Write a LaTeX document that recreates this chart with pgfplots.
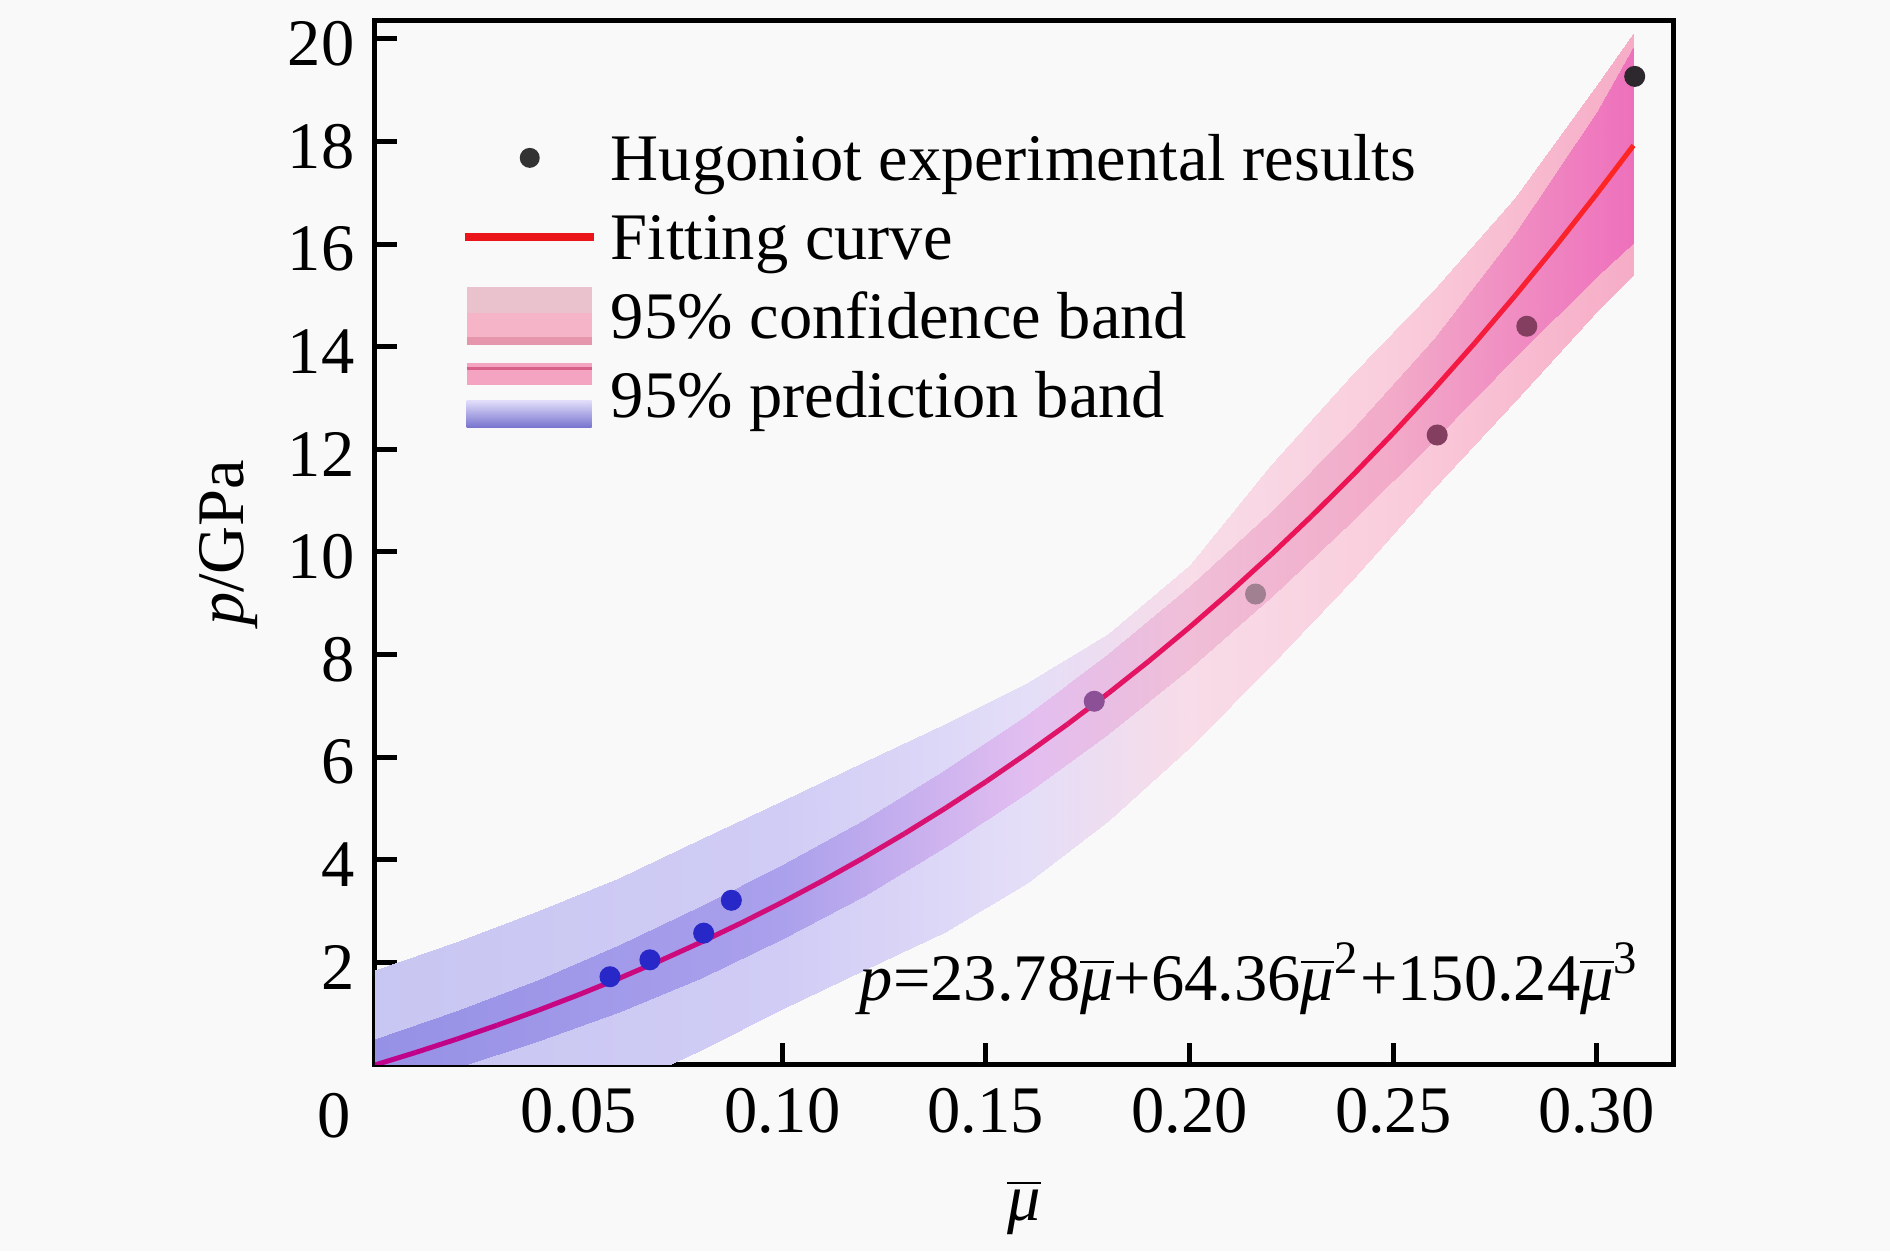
\documentclass[border=0pt]{standalone}
\usepackage{pgfplots}
\pgfplotsset{compat=1.18}
\usepackage{fontspec}
\setmainfont{Liberation Serif}
\usetikzlibrary{backgrounds}
\definecolor{bgc}{RGB}{249,249,249}
\definecolor{ptdark}{RGB}{51,51,51}
\definecolor{fitred}{RGB}{235,20,25}
\definecolor{cA}{RGB}{40,40,200}
\definecolor{cB}{RGB}{140,80,150}
\definecolor{cC}{RGB}{160,128,145}
\definecolor{cD}{RGB}{132,62,96}
\definecolor{cE}{RGB}{45,40,45}
\definecolor{legconfA}{RGB}{234,194,206}
\definecolor{legconfB}{RGB}{246,180,200}
\definecolor{legconfC}{RGB}{230,150,172}
\definecolor{legpredA}{RGB}{244,164,192}
\definecolor{legpredB}{RGB}{214,96,136}
\definecolor{legblueT}{RGB}{224,220,250}
\definecolor{legblueB}{RGB}{120,116,206}
\newcommand\mub{\ensuremath{\overline{\mbox{\itshape μ}}}}
\pgfplotsset{
  colormap={predcm}{rgb255(0pt)=(200,198,242) rgb255(100pt)=(208,204,245) rgb255(160pt)=(228,222,248) rgb255(200pt)=(248,220,232) rgb255(250pt)=(250,205,220) rgb255(309pt)=(246,172,198)},
  colormap={confcm}{rgb255(0pt)=(150,145,230) rgb255(100pt)=(170,160,236) rgb255(160pt)=(226,190,240) rgb255(200pt)=(240,190,215) rgb255(250pt)=(242,170,200) rgb255(309pt)=(238,112,188)},
  colormap={curvecm}{rgb255(0pt)=(190,0,140) rgb255(150pt)=(220,20,110) rgb255(250pt)=(240,20,80) rgb255(309pt)=(255,40,30)},
}
\begin{document}
\begin{tikzpicture}[font=\fontsize{13.3}{16}\selectfont,
  show background rectangle, inner frame sep=0pt,
  background rectangle/.style={fill=bgc, draw=none}]
\begin{axis}[
  scale only axis, width=259.6pt, height=208.9pt,
  xmin=0, xmax=0.3187, ymin=0, ymax=20.36,
  axis line style={line width=1pt},
  tick align=inside, major tick length=4.4pt,
  tick style={black, line width=1pt},
  xtick pos=bottom, ytick pos=left,
  xtick={0.05,0.10,0.15,0.20,0.25,0.30},
  xticklabels={0.05,0.10,0.15,0.20,0.25,0.30},
  ytick={2,4,6,8,10,12,14,16,18,20},
  yticklabels={2,4,6,8,10,12,14,16,18,20},
  xticklabel style={yshift=-1.2pt},
  yticklabel style={xshift=-0.6pt, yshift=-1pt},
  clip mode=individual,
  xlabel={\mub}, ylabel={\textit{p}/GPa},
  every axis x label/.style={at={(rel axis cs:0.5,-0.136)}, anchor=center},
  every axis y label/.style={at={(rel axis cs:-0.1125,0.5)}, anchor=center, rotate=90},
  legend style={draw=none, fill=none, inner sep=0pt, at={(0.0651,0.9015)}, anchor=north west,
    row sep=2.4pt, nodes={inner sep=0pt, text height=11.2pt, text depth=2.2pt},
    /tikz/every odd column/.append style={column sep=2.6pt}},
  legend cell align=left,
]
% prediction band
\addplot[patch, patch type=rectangle, shader=interp, colormap name=predcm, point meta=x,
  point meta min=0, point meta max=0.309, forget plot] table[row sep=\\] {x y\\
0 -1.8\\ 0.02 -1.5\\ 0.02 2.4\\ 0 1.85\\
0.02 -1.5\\ 0.04 -1.05\\ 0.04 3.0\\ 0.02 2.4\\
0.04 -1.05\\ 0.06 -0.45\\ 0.06 3.65\\ 0.04 3.0\\
0.06 -0.45\\ 0.08 0.3\\ 0.08 4.4\\ 0.06 3.65\\
0.08 0.3\\ 0.10 1.1\\ 0.10 5.15\\ 0.08 4.4\\
0.10 1.1\\ 0.12 1.85\\ 0.12 5.9\\ 0.10 5.15\\
0.12 1.85\\ 0.14 2.6\\ 0.14 6.65\\ 0.12 5.9\\
0.14 2.6\\ 0.16 3.55\\ 0.16 7.45\\ 0.14 6.65\\
0.16 3.55\\ 0.18 4.75\\ 0.18 8.4\\ 0.16 7.45\\
0.18 4.75\\ 0.20 6.2\\ 0.20 9.75\\ 0.18 8.4\\
0.20 6.2\\ 0.22 7.8\\ 0.22 11.7\\ 0.20 9.75\\
0.22 7.8\\ 0.24 9.45\\ 0.24 13.45\\ 0.22 11.7\\
0.24 9.45\\ 0.26 11.25\\ 0.26 15.1\\ 0.24 13.45\\
0.26 11.25\\ 0.28 12.95\\ 0.28 16.9\\ 0.26 15.1\\
0.28 12.95\\ 0.30 14.7\\ 0.30 19.1\\ 0.28 16.9\\
0.30 14.7\\ 0.309 15.4\\ 0.309 20.1\\ 0.30 19.1\\
};
% confidence band
\addplot[patch, patch type=rectangle, shader=interp, colormap name=confcm, point meta=x,
  point meta min=0, point meta max=0.309, forget plot] table[row sep=\\] {x y\\
0 -0.5\\ 0.02 -0.05\\ 0.02 1.05\\ 0 0.5\\
0.02 -0.05\\ 0.04 0.46\\ 0.04 1.66\\ 0.02 1.05\\
0.04 0.46\\ 0.06 1.04\\ 0.06 2.34\\ 0.04 1.66\\
0.06 1.04\\ 0.08 1.69\\ 0.08 3.09\\ 0.06 2.34\\
0.08 1.69\\ 0.10 2.45\\ 0.10 3.89\\ 0.08 3.09\\
0.10 2.45\\ 0.12 3.30\\ 0.12 4.78\\ 0.10 3.89\\
0.12 3.30\\ 0.14 4.25\\ 0.14 5.75\\ 0.12 4.78\\
0.14 4.25\\ 0.16 5.31\\ 0.16 6.83\\ 0.14 5.75\\
0.16 5.31\\ 0.18 6.46\\ 0.18 8.02\\ 0.16 6.83\\
0.18 6.46\\ 0.20 7.73\\ 0.20 9.33\\ 0.18 8.02\\
0.20 7.73\\ 0.22 9.12\\ 0.22 10.78\\ 0.20 9.33\\
0.22 9.12\\ 0.24 10.61\\ 0.24 12.37\\ 0.22 10.78\\
0.24 10.61\\ 0.26 12.19\\ 0.26 14.15\\ 0.24 12.37\\
0.26 12.19\\ 0.28 13.80\\ 0.28 16.20\\ 0.26 14.15\\
0.28 13.80\\ 0.30 15.38\\ 0.30 18.58\\ 0.28 16.20\\
0.30 15.38\\ 0.309 16.03\\ 0.309 19.83\\ 0.30 18.58\\
};
% fitting curve p = 23.78 mu + 64.36 mu^2 + 150.24 mu^3
\addplot[mesh, colormap name=curvecm, point meta=x, point meta min=0, point meta max=0.309,
  line width=1pt, forget plot] coordinates {
(0,0) (0.01,0.2444) (0.02,0.5025) (0.03,0.7754) (0.04,1.0638) (0.05,1.3687)
(0.06,1.6909) (0.07,2.0315) (0.08,2.3912) (0.09,2.7710) (0.10,3.1718)
(0.11,3.5945) (0.12,4.0400) (0.13,4.5092) (0.14,5.0029) (0.15,5.5222)
(0.16,6.0678) (0.17,6.6407) (0.18,7.2419) (0.19,7.8721) (0.20,8.5323)
(0.21,9.2234) (0.22,9.9464) (0.23,10.7020) (0.24,11.4913) (0.25,12.3150)
(0.26,13.1742) (0.27,14.0696) (0.28,15.0023) (0.29,15.9731) (0.30,16.9829)
(0.309,17.9254)};
% experimental points
\addplot[only marks, mark=*, mark size=1.9pt, color=cA, mark options={draw=none}, forget plot]
  coordinates {(0.0577,1.72) (0.0675,2.05) (0.0807,2.57) (0.0875,3.21)};
\addplot[only marks, mark=*, mark size=1.9pt, color=cB, mark options={draw=none}, forget plot]
  coordinates {(0.1766,7.09)};
\addplot[only marks, mark=*, mark size=1.9pt, color=cC, mark options={draw=none}, forget plot]
  coordinates {(0.2162,9.18)};
\addplot[only marks, mark=*, mark size=1.9pt, color=cD, mark options={draw=none}, forget plot]
  coordinates {(0.2608,12.28) (0.2828,14.40)};
\addplot[only marks, mark=*, mark size=1.9pt, color=cE, mark options={draw=none}, forget plot]
  coordinates {(0.3093,19.27)};
% legend
\addlegendimage{legend image code/.code={\path[draw=none,fill=none] (0pt,0pt) -- (25.8pt,0pt);
  \fill[ptdark, draw=none] (13pt,0pt) circle (2pt);}}
\addlegendentry{Hugoniot experimental results}
\addlegendimage{legend image code/.code={\draw[fitred, line width=1.7pt] (0pt,0pt) -- (25.8pt,0pt);}}
\addlegendentry{Fitting curve}
\addlegendimage{legend image code/.code={\path[draw=none,fill=none] (0pt,0pt) -- (25.8pt,0pt);
  \fill[legconfA, draw=none] (0.4pt,-5.8pt) rectangle (25.4pt,5.8pt);
  \fill[legconfB, draw=none] (0.4pt,-4.3pt) rectangle (25.4pt,0.5pt);
  \fill[legconfC, draw=none] (0.4pt,-5.8pt) rectangle (25.4pt,-4.3pt);}}
\addlegendentry{95\% confidence band}
\addlegendimage{legend image code/.code={\path[draw=none,fill=none] (0pt,0pt) -- (25.8pt,0pt);
  \fill[legpredA, draw=none] (0.4pt,2.0pt) rectangle (25.4pt,6.3pt);
  \path[draw=legpredB, line width=0.5pt] (0.4pt,5.3pt) -- (25.4pt,5.3pt);
  \shade[draw=none, top color=legblueT, bottom color=legblueB] (0.4pt,-6.5pt) rectangle (25.4pt,-1.2pt);}}
\addlegendentry{95\% prediction band}
% equation
\node[anchor=base east, inner sep=0pt] at (rel axis cs:0.975,0.0622)
  {\textit{p}=23.78\mub+64.36\mub\textsuperscript{2}+150.24\mub\textsuperscript{3}};
\coordinate (O) at (rel axis cs:0,0);
\end{axis}
\node[anchor=base east, inner sep=0pt] at ([xshift=-4.6pt,yshift=-14.6pt]O) {0};
\path (O) ++(-75pt,-34.8pt) rectangle ++(378pt,247.8pt);
\end{tikzpicture}
\end{document}
